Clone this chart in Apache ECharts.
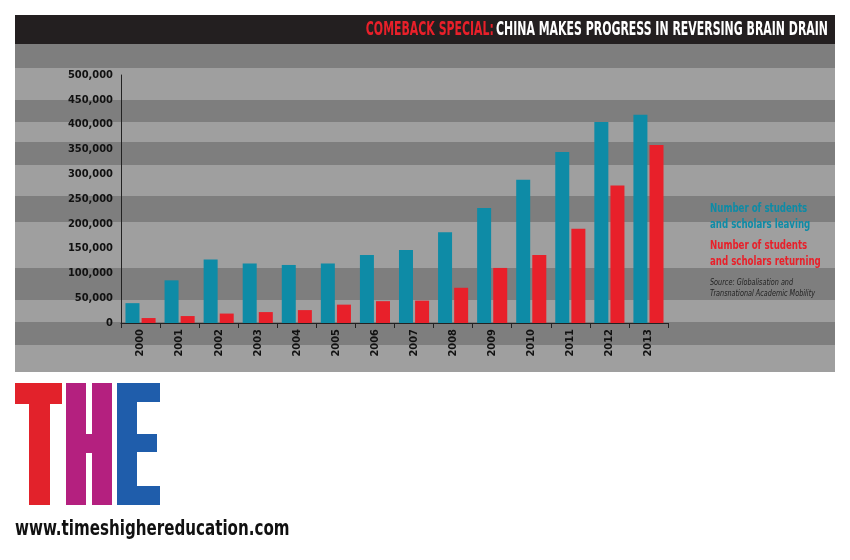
<!DOCTYPE html>
<html><head><meta charset="utf-8">
<script src="https://cdn.jsdelivr.net/npm/echarts@6/dist/echarts.min.js"></script>
<style>body{margin:0;background:#fff}#c{width:850px;height:560px}</style></head>
<body><div id="c"></div>
<script>
const years=['2000','2001','2002','2003','2004','2005','2006','2007','2008','2009','2010','2011','2012','2013'];
const leaving=[40000,86000,128000,120000,117000,120000,137000,147000,183000,232000,289000,345000,405000,420000];
const returning=[10000,14000,19000,22000,26000,37000,44000,45000,71000,111000,137000,190000,277000,359000];
const F='"DejaVu Sans Condensed","Liberation Sans Narrow",sans-serif';
const stripes=[];
[[68,100],[122,142],[165,196],[222,268],[300,322],[345,372]].forEach(function(s){
 stripes.push({type:'rect',z:-1,shape:{x:15,y:s[0],width:820,height:s[1]-s[0]},style:{fill:'rgba(220,220,220,0.35)'}});});
const chart=echarts.init(document.getElementById('c'));
chart.setOption({
 animation:false,
 grid:{left:121,right:182,top:75,bottom:237},
 graphic:[
  {type:'rect',z:-2,shape:{x:15,y:44,width:820,height:328},style:{fill:'#7e7e7e'}},
  ...stripes,
  {type:'rect',shape:{x:15,y:15,width:820,height:29},style:{fill:'#231f20'}},
  {type:'text',x:828,y:30,scaleX:0.64,style:{text:'{r|COMEBACK SPECIAL:} {w|CHINA MAKES PROGRESS IN REVERSING BRAIN DRAIN}',align:'right',verticalAlign:'middle',
    rich:{r:{fill:'#e8202a',font:'bold 19px '+F},w:{fill:'#fff',font:'bold 19px '+F}}}},
  {type:'text',x:710,y:201,scaleX:0.8,style:{text:'Number of students\nand scholars leaving',fill:'#0e8ba6',font:'bold 12px '+F,lineHeight:16}},
  {type:'text',x:710,y:238,scaleX:0.8,style:{text:'Number of students\nand scholars returning',fill:'#e8202a',font:'bold 12px '+F,lineHeight:16}},
  {type:'text',x:710,y:277,scaleX:0.8,style:{text:'Source: Globalisation and\nTransnational Academic Mobility',fill:'#222',font:'italic 9px '+F,lineHeight:11}},
  {type:'rect',shape:{x:15,y:383,width:47,height:21},style:{fill:'#e2222b'}},
  {type:'rect',shape:{x:29,y:383,width:21,height:122},style:{fill:'#e2222b'}},
  {type:'rect',shape:{x:66,y:383,width:20,height:122},style:{fill:'#b4207f'}},
  {type:'rect',shape:{x:92,y:383,width:20,height:122},style:{fill:'#b4207f'}},
  {type:'rect',shape:{x:66,y:434,width:46,height:19},style:{fill:'#b4207f'}},
  {type:'rect',shape:{x:117,y:383,width:20,height:122},style:{fill:'#1f5dab'}},
  {type:'rect',shape:{x:117,y:383,width:43,height:19},style:{fill:'#1f5dab'}},
  {type:'rect',shape:{x:117,y:434,width:40,height:18},style:{fill:'#1f5dab'}},
  {type:'rect',shape:{x:117,y:486,width:43,height:19},style:{fill:'#1f5dab'}},
  {type:'text',x:15,y:519,scaleX:0.8,style:{text:'www.timeshighereducation.com',fill:'#111',font:'bold 21px '+F}}
 ],
 xAxis:{type:'category',data:years,axisLine:{lineStyle:{color:'#222',width:1}},axisTick:{show:true,lineStyle:{color:'#222'}},
  axisLabel:{rotate:90,color:'#111',fontFamily:F,fontWeight:'bold',fontSize:11,margin:6}},
 yAxis:{type:'value',min:0,max:500000,interval:50000,splitLine:{show:false},axisLine:{show:true,lineStyle:{color:'#222'}},
  axisLabel:{color:'#111',fontFamily:F,fontWeight:'bold',fontSize:11,formatter:v=>v.toLocaleString('en-US')}},
 series:[
  {type:'bar',data:leaving,itemStyle:{color:'#0e8ba6'},barWidth:14,barGap:'15%'},
  {type:'bar',data:returning,itemStyle:{color:'#e8202a'},barWidth:14}
 ]
});
</script></body></html>
